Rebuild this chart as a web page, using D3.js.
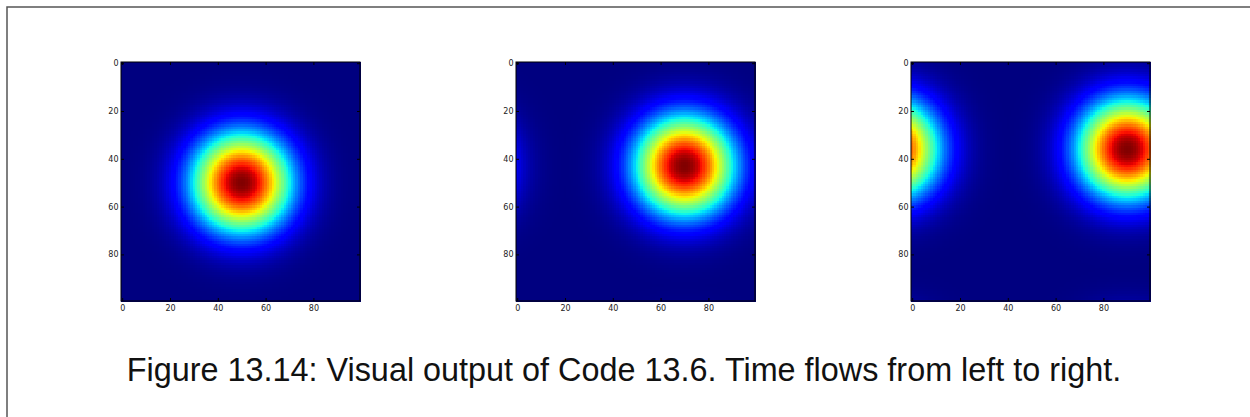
<!DOCTYPE html>
<html>
<head>
<meta charset="utf-8">
<script src="https://cdn.jsdelivr.net/npm/d3@7"></script>
<style>
  body { margin: 0; background: #fff; }
  svg { display: block; }
</style>
</head>
<body>
<script>
// field is 100 x 100 cells, one spot per snapshot (periodic borders)
const gridSize = 100
const blobX = [50, 70, 90]
const blobY = [50, 43, 36]
const blobRadius = [20, 20, 20]
const blobShape = [2.1, 2.1, 2.1]
const tickValues = [0, 20, 40, 60, 80]
const caption = "Figure 13.14: Visual output of Code 13.6. Time flows from left to right."

// matplotlib "jet" segment data
const jetR = [[0, 0], [0.35, 0], [0.66, 1], [0.89, 1], [1, 0.5]]
const jetG = [[0, 0], [0.125, 0], [0.375, 1], [0.64, 1], [0.91, 0], [1, 0]]
const jetB = [[0, 0.5], [0.11, 1], [0.34, 1], [0.65, 0], [1, 0]]

function channel(seg) {
  return d3.scaleLinear()
    .domain(seg.map(s => s[0]))
    .range(seg.map(s => s[1] * 255))
    .clamp(true)
}
const jr = channel(jetR), jg = channel(jetG), jb = channel(jetB)
const jet = (t) => d3.rgb(jr(t), jg(t), jb(t)).formatHex()

function field(k) {
  const cells = []
  for (var row = 0; row < gridSize; ++row) {
    for (var col = 0; col < gridSize; ++col) {
      var dx = Math.abs(col - blobX[k])
      var dy = Math.abs(row - blobY[k])
      dx = Math.min(dx, gridSize - dx)
      dy = Math.min(dy, gridSize - dy)
      const d = Math.sqrt(dx * dx + dy * dy) / blobRadius[k]
      cells.push({ row: row, col: col, v: Math.exp(-Math.pow(d, blobShape[k])) })
    }
  }
  return cells
}

class PanelDrawer {
  constructor(root, left, top, size, cells) {
    this.g = root.append("g")
      .attr("transform", "translate(" + left + "," + top + ")")
    const x = d3.scaleLinear().domain([-0.5, gridSize - 0.5]).range([0, size])
    const y = d3.scaleLinear().domain([-0.5, gridSize - 0.5]).range([0, size])
    const norm = d3.scaleLinear().domain(d3.extent(cells, c => c.v)).range([0, 1])
    const cw = x(1) - x(0)

    this.g.append("g")
      .attr("shape-rendering", "crispEdges")
      .selectAll("rect")
      .data(cells)
      .join("rect")
        .attr("x", d => x(d.col - 0.5))
        .attr("y", d => y(d.row - 0.5))
        .attr("width", cw + 0.6)
        .attr("height", cw + 0.6)
        .attr("fill", d => jet(norm(d.v)))

    const ticks = (axis, pad) => axis.tickValues(tickValues)
      .tickSizeInner(-3).tickSizeOuter(0).tickPadding(pad)

    const styleAxis = (sel) => {
      sel.select(".domain").remove()
      sel.selectAll("line").attr("stroke", "#000")
      sel.selectAll("text")
        .attr("fill", "#222")
        .attr("font-family", "DejaVu Sans")
        .attr("font-size", 8)
    }

    this.g.append("g").attr("transform", "translate(0," + size + ")")
      .call(ticks(d3.axisBottom(x), 4)).call(styleAxis)
    this.g.append("g")
      .call(ticks(d3.axisLeft(y), 2.5)).call(styleAxis)
    this.g.append("g")
      .call(ticks(d3.axisTop(x), 0).tickFormat("")).call(styleAxis)
    this.g.append("g").attr("transform", "translate(" + size + ",0)")
      .call(ticks(d3.axisRight(y), 0).tickFormat("")).call(styleAxis)

    this.g.append("rect")
      .attr("width", size)
      .attr("height", size)
      .attr("fill", "none")
      .attr("stroke", "#000")
      .attr("stroke-width", 1)
  }
}

window.onload = () => {
  const W = 1250, H = 417
  const svg = d3.select("body").append("svg")
    .attr("width", W)
    .attr("height", H)

  // page frame (top and left edge only)
  svg.append("path")
    .attr("d", "M7," + H + "V7H" + W)
    .attr("fill", "none")
    .attr("stroke", "#555")
    .attr("stroke-width", 1.5)

  const panelLeft = d3.scaleLinear().domain([0, 1]).range([121, 516])
  const panels = blobX.map((_, k) =>
    new PanelDrawer(svg, panelLeft(k), 62, 239, field(k)))

  const text = svg.append("text")
    .attr("x", 624)
    .attr("y", 381)
    .attr("text-anchor", "middle")
    .attr("font-family", "Liberation Sans, Arial, sans-serif")
    .attr("font-size", 26.5)
    .attr("fill", "#111")
    .text(caption)
  // fit caption to the measured width in the reference
  const w = text.node().getComputedTextLength()
  text.attr("font-size", 26.5 * 995 / w)
}
</script>
</body>
</html>
